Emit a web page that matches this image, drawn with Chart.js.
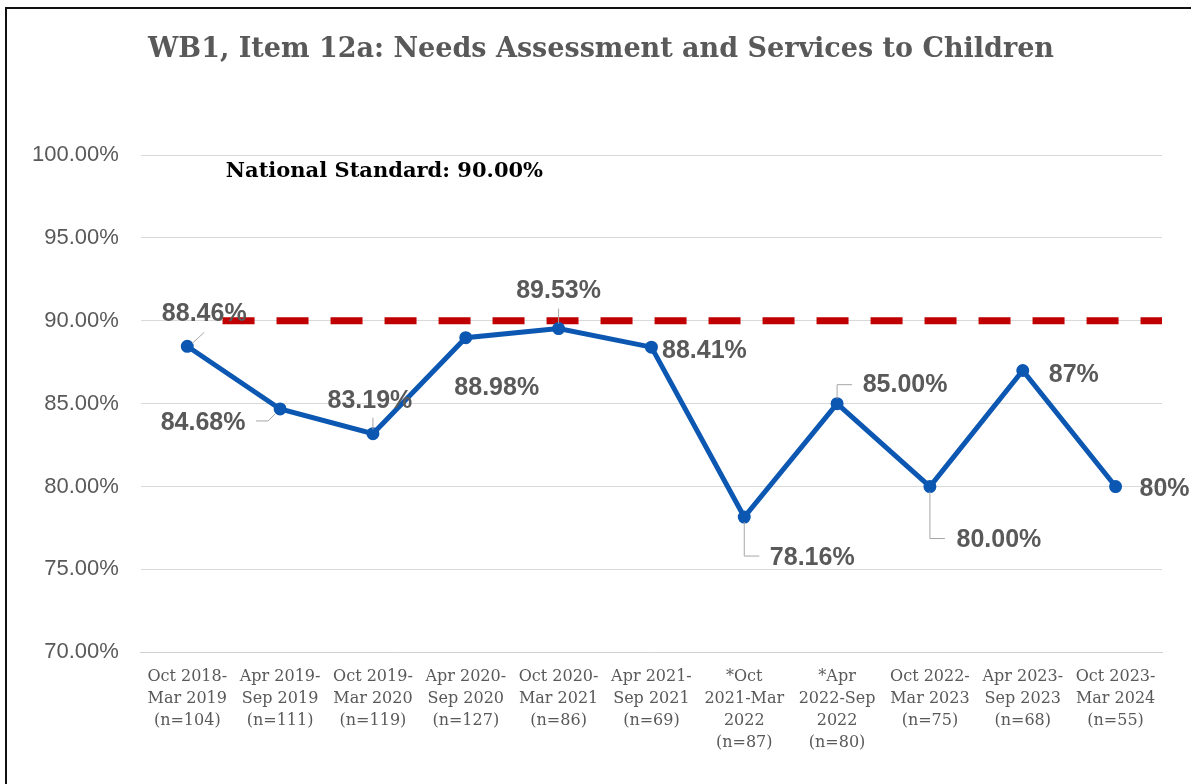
<!DOCTYPE html>
<html>
<head>
<meta charset="utf-8">
<script src="https://cdn.jsdelivr.net/npm/chart.js@4.4.1/dist/chart.umd.min.js"></script>
<style>
  html, body { margin: 0; padding: 0; background: #fff; }
  #wrap { position: relative; width: 1191px; height: 784px; }
  #frame { position: absolute; left: 5px; top: 7px; right: 0; bottom: 0;
           border-left: 2px solid #111; border-top: 2px solid #111; pointer-events: none; }
</style>
</head>
<body>
<div id="wrap">
  <canvas id="needsChart" width="1191" height="784"></canvas>
  <div id="frame"></div>
</div>
<script>
// Data
const chartTitle = 'WB1, Item 12a: Needs Assessment and Services to Children';
const periods = [
  ['Oct 2018-', 'Mar 2019', '(n=104)'],
  ['Apr 2019-', 'Sep 2019', '(n=111)'],
  ['Oct 2019-', 'Mar 2020', '(n=119)'],
  ['Apr 2020-', 'Sep 2020', '(n=127)'],
  ['Oct 2020-', 'Mar 2021', '(n=86)'],
  ['Apr 2021-', 'Sep 2021', '(n=69)'],
  ['*Oct', '2021-Mar', '2022', '(n=87)'],
  ['*Apr', '2022-Sep', '2022', '(n=80)'],
  ['Oct 2022-', 'Mar 2023', '(n=75)'],
  ['Apr 2023-', 'Sep 2023', '(n=68)'],
  ['Oct 2023-', 'Mar 2024', '(n=55)']
];
const scores = [88.46, 84.68, 83.19, 88.98, 89.53, 88.41, 78.16, 85.00, 80.00, 87, 80];
const scoreLabels = ['88.46%', '84.68%', '83.19%', '88.98%', '89.53%', '88.41%', '78.16%', '85.00%', '80.00%', '87%', '80%'];
const nationalStandard = 90;
const standardFrom = 0.38;   // in category units
const standardTo = 10.5;
const yTicks = [70, 75, 80, 85, 90, 95, 100];

// label placement (px from the point) and leader lines
const labelOffsets = [[17, -32], [-77, 14], [-3, -33], [31, 50], [0, -37], [53, 4],
                      [68, 41], [68, -19], [69, 54], [51, 5], [49, 3]];
const leaders = [
  [[5, -3], [17, -14]],
  [[-24, 12], [-12, 12], [-5, 5]],
  [[0, -4], [0, -16]],
  null,
  [[0, -5], [0, -20]],
  null,
  [[0, 5], [0, 39], [15, 39]],
  [[0, -5], [0, -19], [15, -19]],
  [[0, 5], [0, 52], [15, 52]],
  null,
  null
];

const gray = '#595959';

const labelPlugin = {
  id: 'pointLabels',
  afterDatasetsDraw(chart) {
    const ctx = chart.ctx;
    const meta = chart.getDatasetMeta(0);
    ctx.save();
    meta.data.forEach((pt, i) => {
      const lead = leaders[i];
      if (lead) {
        ctx.beginPath();
        ctx.strokeStyle = '#a6a6a6';
        ctx.lineWidth = 1;
        lead.forEach((p, j) => {
          if (j === 0) ctx.moveTo(pt.x + p[0], pt.y + p[1]);
          else ctx.lineTo(pt.x + p[0], pt.y + p[1]);
        });
        ctx.stroke();
      }
      ctx.font = 'bold 25px "Liberation Sans", Arial, sans-serif';
      ctx.fillStyle = gray;
      ctx.textAlign = 'center';
      ctx.textBaseline = 'middle';
      ctx.fillText(scoreLabels[i], pt.x + labelOffsets[i][0], pt.y + labelOffsets[i][1]);
    });
    // title
    ctx.font = 'bold 27px "DejaVu Serif", serif';
    ctx.fillStyle = gray;
    ctx.textAlign = 'center';
    ctx.fillText(chartTitle, 601, 50);
    // national standard note
    const a = chart.chartArea;
    ctx.font = 'bold 21px "DejaVu Serif", serif';
    ctx.fillStyle = '#000';
    ctx.textAlign = 'left';
    ctx.fillText('National Standard: ' + nationalStandard.toFixed(2) + '%', a.left + 85, a.top + 17);
    ctx.restore();
  }
};

const ctx = document.getElementById('needsChart').getContext('2d');
new Chart(ctx, {
  type: 'line',
  data: {
    labels: periods,
    datasets: [{
      label: 'Score',
      data: scores,
      borderColor: '#0b57b1',
      backgroundColor: '#0b57b1',
      borderWidth: 5,
      pointRadius: 4,
      pointHoverRadius: 4,
      tension: 0,
      xAxisID: 'x',
      order: 0
    }, {
      label: 'National Standard',
      data: [{x: standardFrom, y: nationalStandard}, {x: standardTo, y: nationalStandard}],
      borderColor: '#c00000',
      borderWidth: 7,
      borderDash: [32, 22],
      borderCapStyle: 'butt',
      pointRadius: 0,
      xAxisID: 'x2',
      order: 1
    }]
  },
  options: {
    responsive: false,
    animation: false,
    layout: { padding: { left: 10, right: 29, top: 155, bottom: 16 } },
    plugins: {
      legend: { display: false },
      tooltip: { enabled: false },
      title: { display: false }
    },
    scales: {
      x: {
        type: 'category',
        offset: true,
        grid: { display: false, drawTicks: false },
        border: { display: true, color: '#d0d0d0', width: 1 },
        ticks: {
          color: gray,
          autoSkip: false,
          maxRotation: 0,
          padding: 14,
          font: { family: '"DejaVu Serif", serif', size: 16, lineHeight: 1.37 }
        }
      },
      x2: {
        type: 'linear',
        display: false,
        min: -0.5,
        max: periods.length - 0.5
      },
      y: {
        min: 70,
        max: 100,
        afterBuildTicks(scale) { scale.ticks = yTicks.map(v => ({ value: v })); },
        grid: { color: '#d9d9d9', drawTicks: false },
        border: { display: false },
        ticks: {
          color: gray,
          padding: 22,
          font: { family: '"Liberation Sans", Arial, sans-serif', size: 22 },
          callback: v => v.toFixed(2) + '%'
        }
      }
    }
  },
  plugins: [labelPlugin]
});
</script>
</body>
</html>
